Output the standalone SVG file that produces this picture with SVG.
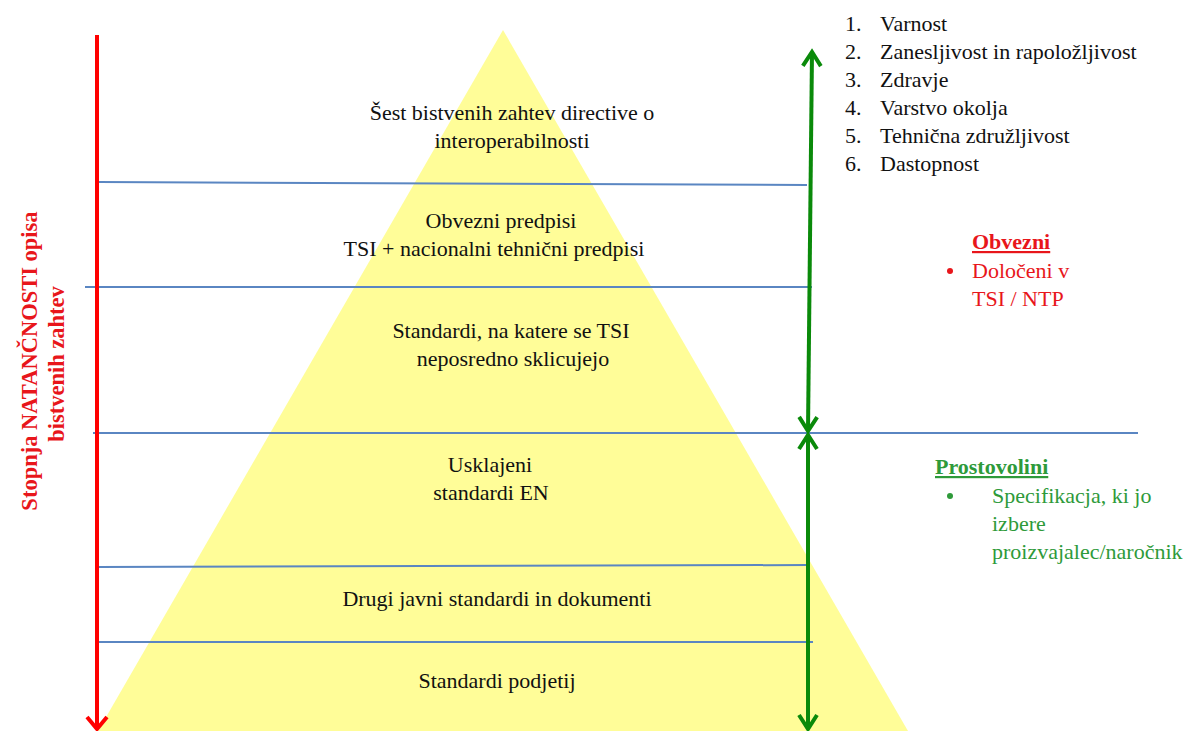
<svg xmlns="http://www.w3.org/2000/svg" width="1192" height="731" viewBox="0 0 1192 731">
<style>
  .t { font-family: "Liberation Serif", "Times New Roman", "DejaVu Serif", serif; font-size: 22px; fill: #111; }
  .c { text-anchor: middle; }
  .sep { stroke: #5A86C2; stroke-width: 2; fill: none; }
  .red { stroke: #FF0000; stroke-width: 4; fill: none; }
  .grn { stroke: #0A8A0A; stroke-width: 4; fill: none; }
  .rt { fill: #E8161B; }
  .gt { fill: #2E9A3A; }
  .b { font-weight: bold; }
  .ax { font-size: 22.5px; }
</style>
<defs>
  <marker id="ah-red" markerUnits="userSpaceOnUse" markerWidth="30" markerHeight="30" viewBox="-15 -15 30 30" refX="0" refY="0" orient="auto" overflow="visible">
    <path d="M-12,-10 L0,0 L-12,10" fill="none" stroke="#FF0000" stroke-width="4"/>
  </marker>
  <marker id="ah-grn" markerUnits="userSpaceOnUse" markerWidth="30" markerHeight="30" viewBox="-15 -15 30 30" refX="0" refY="0" orient="auto" overflow="visible">
    <path d="M-14,-9 L0,0 L-14,9" fill="none" stroke="#0A8A0A" stroke-width="4"/>
  </marker>
</defs>
<rect width="1192" height="731" fill="#FFFFFF"/>

<g id="pyramid">
  <polygon points="503,30 908,731 98,731" fill="#FFFD98"/>
</g>

<g id="separators">
  <line class="sep" x1="98" y1="182" x2="807" y2="185"/>
  <line class="sep" x1="85" y1="287" x2="812" y2="287"/>
  <line class="sep" x1="93" y1="433" x2="1138" y2="433"/>
  <line class="sep" x1="98" y1="567" x2="808" y2="565"/>
  <line class="sep" x1="98" y1="642" x2="813" y2="642"/>
</g>

<g id="connectors">
  <line id="precision-arrow" class="red" x1="97" y1="35" x2="97" y2="729" marker-end="url(#ah-red)"/>
  <line id="mandatory-up" class="grn" x1="810" y1="240" x2="812" y2="52" marker-end="url(#ah-grn)"/>
  <line id="mandatory-down" class="grn" x1="810" y1="240" x2="808" y2="431" marker-end="url(#ah-grn)"/>
  <line id="voluntary-up" class="grn" x1="808" y1="580" x2="808" y2="435" marker-end="url(#ah-grn)"/>
  <line id="voluntary-down" class="grn" x1="808" y1="580" x2="808" y2="729" marker-end="url(#ah-grn)"/>
</g>

<g id="level-1">
  <text class="t c" x="512" y="120">Šest bistvenih zahtev directive o</text>
  <text class="t c" x="512" y="148">interoperabilnosti</text>
</g>
<g id="level-2">
  <text class="t c" x="501" y="228">Obvezni predpisi</text>
  <text class="t c" x="494" y="256">TSI + nacionalni tehnični predpisi</text>
</g>
<g id="level-3">
  <text class="t c" x="511" y="338">Standardi, na katere se TSI</text>
  <text class="t c" x="513" y="366">neposredno sklicujejo</text>
</g>
<g id="level-4">
  <text class="t c" x="490" y="472">Usklajeni</text>
  <text class="t c" x="491" y="500">standardi EN</text>
</g>
<g id="level-5">
  <text class="t c" x="497" y="606">Drugi javni standardi in dokumenti</text>
</g>
<g id="level-6">
  <text class="t c" x="497" y="688">Standardi podjetij</text>
</g>

<g id="requirements-list">
  <text class="t" x="845" y="31">1.</text><text class="t" x="880" y="31">Varnost</text>
  <text class="t" x="845" y="59">2.</text><text class="t" x="880" y="59">Zanesljivost in rapoložljivost</text>
  <text class="t" x="845" y="87">3.</text><text class="t" x="880" y="87">Zdravje</text>
  <text class="t" x="845" y="115">4.</text><text class="t" x="880" y="115">Varstvo okolja</text>
  <text class="t" x="845" y="143">5.</text><text class="t" x="880" y="143">Tehnična združljivost</text>
  <text class="t" x="845" y="171">6.</text><text class="t" x="880" y="171">Dastopnost</text>
</g>

<g id="mandatory-label">
  <text class="t b rt" x="972" y="249" text-decoration="underline">Obvezni</text>
  <circle cx="950" cy="271" r="3" fill="#E8161B"/>
  <text class="t rt" x="972" y="278">Določeni v</text>
  <text class="t rt" x="972" y="306">TSI / NTP</text>
</g>

<g id="voluntary-label">
  <text class="t b gt" x="935" y="474" text-decoration="underline">Prostovolini</text>
  <circle cx="950" cy="496" r="3" fill="#2E9A3A"/>
  <text class="t gt" x="992" y="503">Specifikacja, ki jo</text>
  <text class="t gt" x="992" y="531">izbere</text>
  <text class="t gt" x="992" y="559">proizvajalec/naročnik</text>
</g>

<g id="axis-label">
  <text class="t b rt c ax" transform="translate(37,361) rotate(-90)">Stopnja NATANČNOSTI opisa</text>
  <text class="t b rt c ax" transform="translate(64,364) rotate(-90)">bistvenih zahtev</text>
</g>
</svg>
